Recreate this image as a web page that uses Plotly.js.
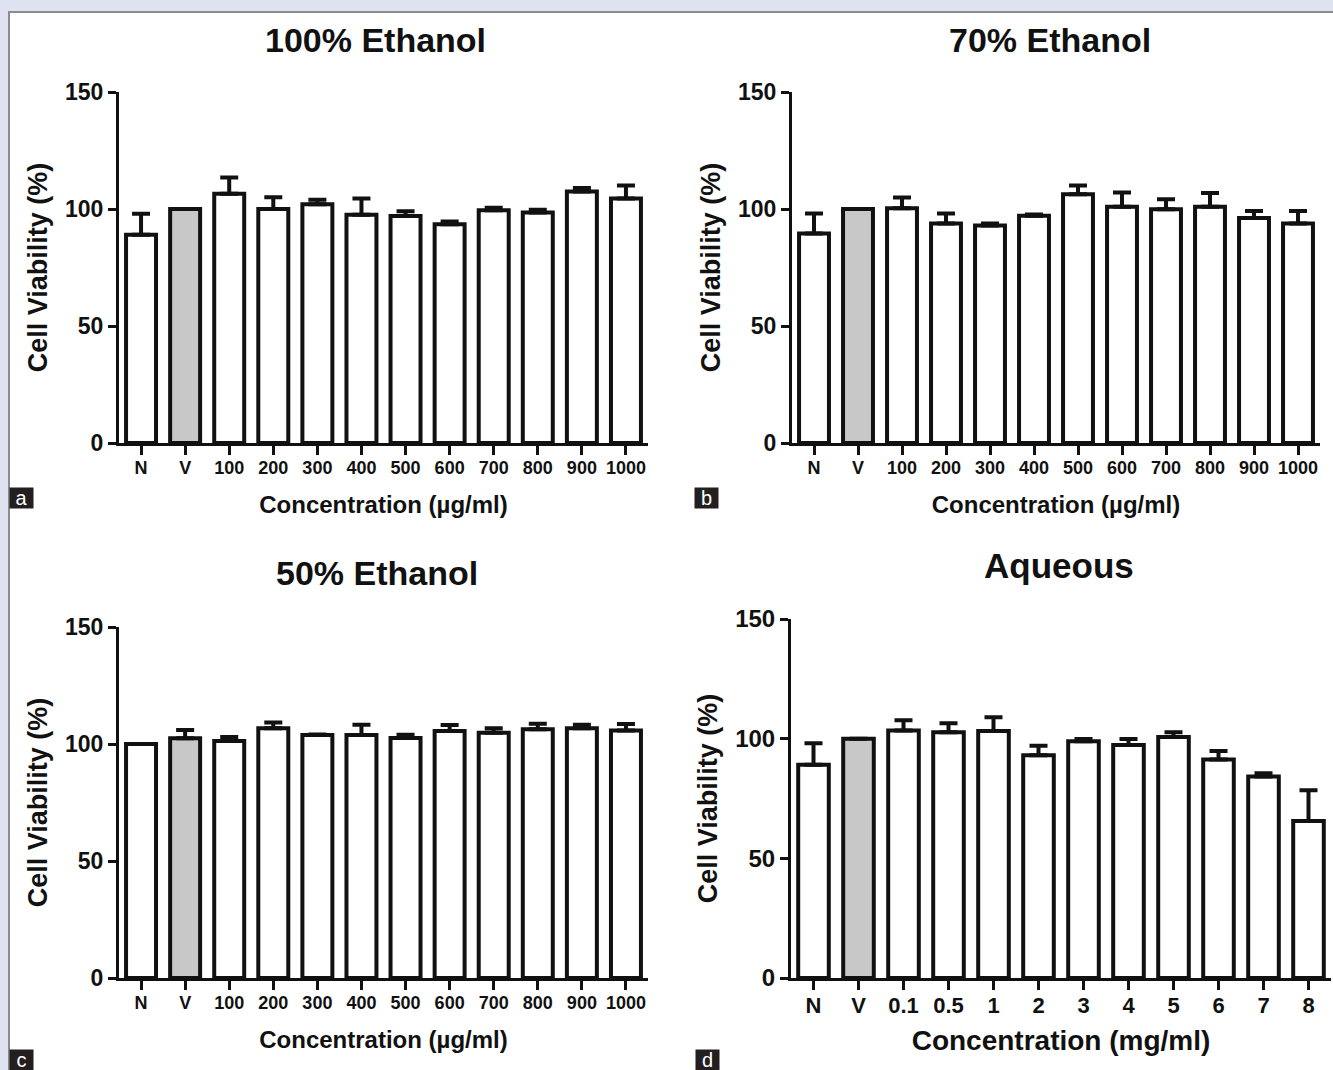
<!DOCTYPE html>
<html>
<head>
<meta charset="utf-8">
<script src="https://cdn.plot.ly/plotly-3.0.1.min.js"></script>
<style>html,body{margin:0;padding:0;background:#fff;}#chart{width:1333px;height:1070px;}</style>
</head>
<body>
<div id="chart"></div>
<script>
// ---- data ----
const catsUg = ["N","V","100","200","300","400","500","600","700","800","900","1000"];
const catsMg = ["N","V","0.1","0.5","1","2","3","4","5","6","7","8"];

const eth100    = [89, 100, 106.5, 100, 102, 97.5, 97, 93.5, 99.5, 98.5, 107.5, 104.5];
const eth100Err = [9, 0, 7, 5, 2, 7, 2, 1.2, 1, 1.2, 1.5, 5.5];

const eth70     = [89.5, 100, 100.3, 93.8, 93, 97.1, 106.3, 101, 99.9, 101, 96.2, 93.8];
const eth70Err  = [8.6, 0, 4.6, 4.3, 0.8, 0.6, 3.7, 6, 4.3, 5.8, 2.9, 5.3];

const eth50     = [100, 102.5, 101.3, 106.7, 103.8, 103.8, 102.6, 105.6, 104.8, 106.3, 106.7, 105.8];
const eth50Err  = [0, 3.5, 1.7, 2.5, 0.3, 4.4, 1.4, 2.5, 1.9, 2.4, 1.5, 2.8];

const aqueous    = [89.1, 100, 103.4, 102.7, 103.2, 93.1, 98.9, 97.4, 100.7, 91.3, 84.2, 65.6];
const aqueousErr = [9, 0, 4.3, 3.7, 5.7, 3.9, 1, 2.5, 2, 3.5, 1.3, 12.8];

const panelTitles = ["100% Ethanol", "70% Ethanol", "50% Ethanol", "Aqueous"];
const yTitle = "Cell Viability (%)";
const xTitleUg = "Concentration (µg/ml)";
const xTitleMg = "Concentration (mg/ml)";
const yTicks = [0, 50, 100, 150];

// ---- layout helpers ----
const W = 1333, H = 1070;
const px = v => v / W;
const py = v => 1 - v / H;
const FONT = "Liberation Sans, Arial, Helvetica, sans-serif";
const BLACK = "#111111";

function barTrace(cats, vals, errs, ax) {
  const colors = cats.map(c => c === "V" ? "#c8c8c8" : "#ffffff");
  return {
    type: "bar", x: cats, y: vals,
    xaxis: "x" + ax, yaxis: "y" + ax,
    marker: { color: colors, line: { color: BLACK, width: 4 } },
    error_y: { type: "data", symmetric: false, array: errs, arrayminus: errs.map(() => 0),
               color: BLACK, thickness: 4, width: 9 },
    showlegend: false, hoverinfo: "x+y"
  };
}

const data = [
  barTrace(catsUg, eth100, eth100Err, ""),
  barTrace(catsUg, eth70, eth70Err, "2"),
  barTrace(catsUg, eth50, eth50Err, "3"),
  barTrace(catsMg, aqueous, aqueousErr, "4")
];

function xAxis(domain, anchor, title, tsize, titleSize, standoff) {
  return {
    domain: domain, anchor: anchor, type: "category", range: [-0.5, 11.5],
    showline: true, linecolor: BLACK, linewidth: 3, showgrid: false, zeroline: false,
    ticks: "outside", ticklen: 9, tickwidth: 3, tickcolor: BLACK, ticklabelstandoff: -3,
    tickfont: { family: FONT, size: tsize, color: BLACK, weight: "bold" },
    title: { text: title, font: { family: FONT, size: titleSize, color: BLACK, weight: "bold" }, standoff: standoff },
    automargin: false, fixedrange: true
  };
}
function yAxis(domain, anchor, tsize, titleSize, standoff) {
  return {
    domain: domain, anchor: anchor, range: [0, 150], tickvals: yTicks,
    showline: true, linecolor: BLACK, linewidth: 3, showgrid: false, zeroline: false,
    ticks: "outside", ticklen: 8, tickwidth: 3, tickcolor: BLACK,
    tickfont: { family: FONT, size: tsize, color: BLACK, weight: "bold" },
    title: { text: yTitle, font: { family: FONT, size: titleSize, color: BLACK, weight: "bold" }, standoff: standoff },
    automargin: false, fixedrange: true
  };
}

function panelTitle(text, x, y, size) {
  return { text: text, x: px(x), y: py(y), xref: "paper", yref: "paper",
           xanchor: "center", yanchor: "middle", showarrow: false,
           font: { family: FONT, size: size, color: BLACK, weight: "bold" } };
}
function panelLabel(text, x, y) {
  return { text: text, x: px(x), y: py(y), xref: "paper", yref: "paper",
           xanchor: "left", yanchor: "top", showarrow: false,
           bgcolor: "#231f20", width: 23, height: 20, borderpad: 0,
           font: { family: FONT, size: 20, color: "#ffffff" } };
}

const layout = {
  width: W, height: H,
  margin: { l: 0, r: 0, t: 0, b: 0 },
  paper_bgcolor: "#ffffff", plot_bgcolor: "#ffffff",
  bargap: 0.32,
  showlegend: false,
  xaxis:  xAxis([px(119), px(648)], "y",  xTitleUg, 18, 24, 20),
  yaxis:  yAxis([py(443), py(92)],  "x",  23, 27, 10),
  xaxis2: xAxis([px(792), px(1320)], "y2", xTitleUg, 18, 24, 20),
  yaxis2: yAxis([py(443), py(92)],  "x2", 23, 27, 10),
  xaxis3: xAxis([px(119), px(648)], "y3", xTitleUg, 18, 24, 20),
  yaxis3: yAxis([py(978), py(627)], "x3", 23, 27, 10),
  xaxis4: xAxis([px(791), px(1331)], "y4", xTitleMg, 22, 28, 13),
  yaxis4: yAxis([py(978), py(619)], "x4", 24, 27, 10),
  annotations: [
    panelTitle(panelTitles[0], 376, 40, 34),
    panelTitle(panelTitles[1], 1050, 40, 34),
    panelTitle(panelTitles[2], 377, 573, 34),
    panelTitle(panelTitles[3], 1059, 565, 35),
    panelLabel("a", 9, 487),
    panelLabel("b", 694, 487),
    panelLabel("c", 9, 1049),
    panelLabel("d", 695, 1049)
  ],
  shapes: [
    { type: "rect", xref: "paper", yref: "paper", x0: 0, x1: 1, y0: py(11), y1: 1,
      fillcolor: "#dfe2f0", line: { width: 0 }, layer: "below" },
    { type: "rect", xref: "paper", yref: "paper", x0: 0, x1: px(8), y0: 0, y1: 1,
      fillcolor: "#dfe2f0", line: { width: 0 }, layer: "below" },
    { type: "line", xref: "paper", yref: "paper", x0: px(8), x1: 1, y0: py(12), y1: py(12),
      line: { color: "#8c8c8c", width: 2 }, layer: "below" },
    { type: "line", xref: "paper", yref: "paper", x0: px(9), x1: px(9), y0: 0, y1: py(12),
      line: { color: "#8c8c8c", width: 2 }, layer: "below" }
  ]
};

Plotly.newPlot("chart", data, layout, { displayModeBar: false, staticPlot: true });
</script>
</body>
</html>
